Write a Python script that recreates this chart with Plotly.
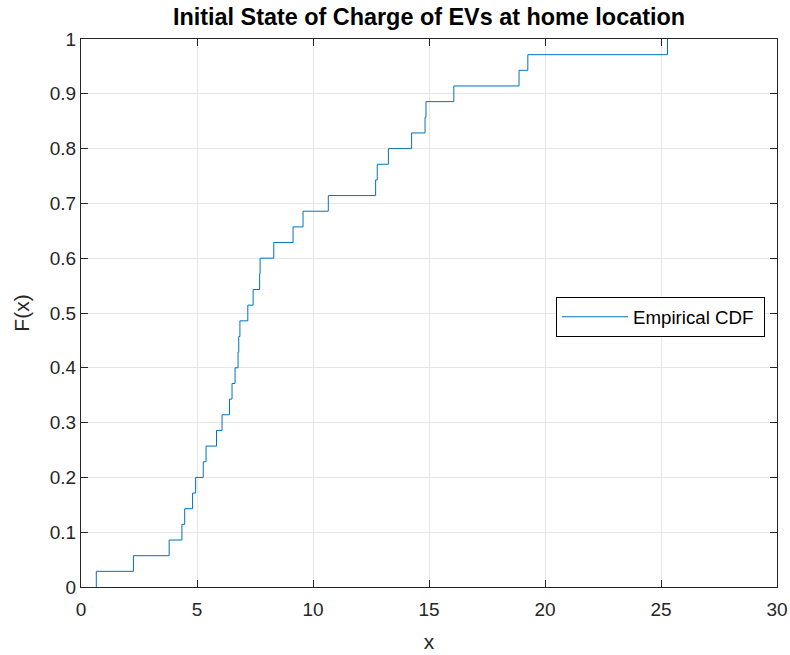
import numpy as np
import plotly.graph_objects as go

# Initial state of charge samples of EVs at the home location
soc_values = [0.66, 2.26, 3.80, 4.35, 4.47, 4.81, 4.94, 5.27, 5.39, 5.84,
              6.08, 6.40, 6.51, 6.64, 6.77, 6.80, 6.85, 7.19, 7.42, 7.70,
              7.72, 8.31, 9.14, 9.57, 10.66, 12.70, 12.77, 13.25, 14.25, 14.83,
              14.87, 16.07, 18.88, 19.26, 25.28]

x_ticks = [0, 5, 10, 15, 20, 25, 30]
y_ticks = [0, 0.1, 0.2, 0.3, 0.4, 0.5, 0.6, 0.7, 0.8, 0.9, 1]

# Empirical CDF as a staircase
xs = np.sort(np.array(soc_values))
n = len(xs)
cdf = np.arange(1, n + 1) / n
stair_x = np.concatenate([[xs[0]], xs])
stair_y = np.concatenate([[0.0], cdf])

FONT = "Liberation Sans, Arial, Helvetica, sans-serif"
AX = "#262626"

fig = go.Figure()
fig.add_trace(go.Scatter(
    x=stair_x, y=stair_y, mode="lines", line_shape="hv",
    line=dict(color="#0072BD", width=1),
    name="Empirical CDF&nbsp;",
))

axis_common = dict(
    showline=True, linecolor=AX, linewidth=1, mirror="ticks",
    ticks="inside", ticklen=7, tickcolor=AX, tickwidth=1,
    showgrid=True, gridcolor="#e6e6e6", gridwidth=1,
    zeroline=False, automargin=False, ticklabeloverflow="allow",
    tickfont=dict(family=FONT, size=19, color=AX),
)

fig.update_layout(
    width=790, height=655,
    margin=dict(l=81, r=13, t=39, b=68),
    paper_bgcolor="white", plot_bgcolor="white",
    title=dict(text="<b>Initial State of Charge of EVs at home location</b>",
               xref="paper", x=0.5, xanchor="center", y=1 - 17 / 655, yanchor="middle",
               font=dict(family=FONT, size=23.4, color="black")),
    xaxis=dict(range=[0, 30], tickvals=x_ticks, ticklabelstandoff=5,
               title=dict(text="x", font=dict(family=FONT, size=21, color=AX), standoff=15),
               **axis_common),
    yaxis=dict(range=[0, 1], tickvals=y_ticks,
               title=dict(text="F(x)", font=dict(family=FONT, size=21, color=AX), standoff=14),
               **axis_common),
    showlegend=True,
    legend=dict(x=0.6825, y=0.529, xanchor="left", yanchor="top",
                bgcolor="white", bordercolor="black", borderwidth=1,
                font=dict(family=FONT, size=18.7, color="black"),
                itemwidth=66),
)

fig.write_html("out.html")
